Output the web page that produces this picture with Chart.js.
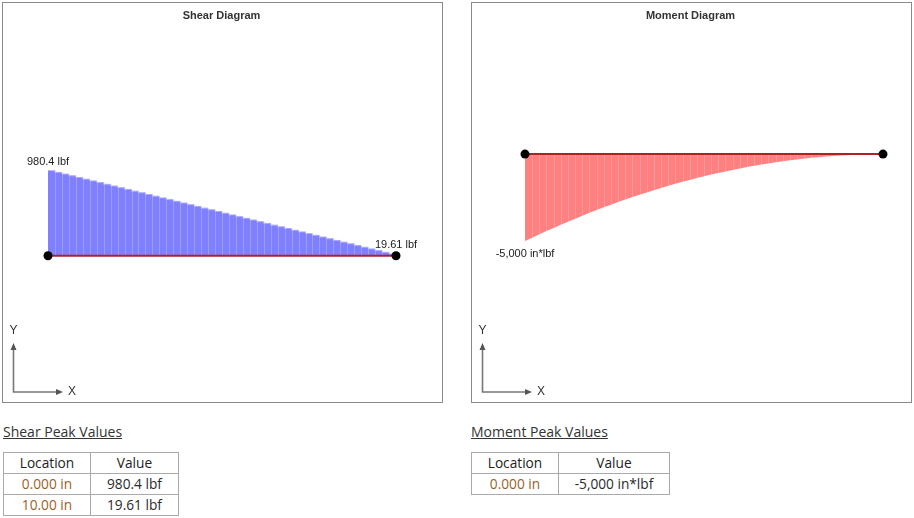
<!DOCTYPE html>
<html>
<head>
<meta charset="utf-8">
<script src="https://cdn.jsdelivr.net/npm/chart.js@4/dist/chart.umd.min.js"></script>
<style>
  body { margin: 0; width: 914px; height: 518px; background: #fff; position: relative; overflow: hidden; }
  .panel { position: absolute; top: 2px; width: 439px; height: 399px; border: 1px solid #8a8a8a; }
  .panel canvas { display: block; }
  .peak-title { position: absolute; top: 422px; font: 14px 'Open Sans', sans-serif; color: #333; text-decoration: underline; }
  table.peaks { position: absolute; top: 452px; border-collapse: collapse; font: 13.7px 'Open Sans', sans-serif; }
  table.peaks td, table.peaks th { border: 1px solid #aaa; height: 20px; padding: 0; line-height: 20px; text-align: center; font-weight: normal; }
  table.peaks th { color: #222; }
  table.peaks td.loc { color: #9a5f28; }
  table.peaks td.val { color: #2a2a2a; }
</style>
</head>
<body>
<div class="panel" style="left:2px"><canvas id="shear" width="439" height="399"></canvas></div>
<div class="panel" style="left:471px"><canvas id="moment" width="439" height="399"></canvas></div>

<div class="peak-title" style="left:3px">Shear Peak Values</div>
<table class="peaks" id="shearTable" style="left:3px"><colgroup><col style="width:87px"><col style="width:88px"></colgroup></table>
<div class="peak-title" style="left:471px">Moment Peak Values</div>
<table class="peaks" id="momentTable" style="left:471px"><colgroup><col style="width:87px"><col style="width:111px"></colgroup></table>

<script>
// stations along the beam (in)
const stations = [0, 0.2, 0.4, 0.6, 0.8, 1, 1.2, 1.4, 1.6, 1.8, 2, 2.2, 2.4, 2.6, 2.8, 3, 3.2, 3.4, 3.6, 3.8,
  4, 4.2, 4.4, 4.6, 4.8, 5, 5.2, 5.4, 5.6, 5.8, 6, 6.2, 6.4, 6.6, 6.8, 7, 7.2, 7.4, 7.6, 7.8,
  8, 8.2, 8.4, 8.6, 8.8, 9, 9.2, 9.4, 9.6, 9.8, 10];

// shear per segment (lbf), segment i runs from stations[i] to stations[i+1]
const shearValues = [980.4, 960.8, 941.2, 921.6, 902.0, 882.4, 862.8, 843.1, 823.5, 803.9,
  784.3, 764.7, 745.1, 725.5, 705.9, 686.3, 666.7, 647.1, 627.5, 607.9,
  588.3, 568.7, 549.0, 529.4, 509.8, 490.2, 470.6, 451.0, 431.4, 411.8,
  392.2, 372.6, 353.0, 333.4, 313.8, 294.2, 274.6, 254.9, 235.3, 215.7,
  196.1, 176.5, 156.9, 137.3, 117.7, 98.1, 78.4, 58.8, 39.2, 19.61];

// moment at each station (in*lbf)
const momentValues = [-5000, -4804.5, -4612.3, -4424.0, -4239.7, -4059.3, -3882.8, -3710.2, -3541.6, -3376.8,
  -3216.0, -3059.2, -2906.2, -2757.2, -2612.1, -2470.9, -2333.6, -2200.2, -2070.8, -1945.3,
  -1823.7, -1706.1, -1592.3, -1482.5, -1376.6, -1274.7, -1176.6, -1082.5, -992.3, -906.0,
  -823.6, -745.2, -670.7, -600.1, -533.4, -470.6, -411.8, -356.9, -305.9, -258.9,
  -215.7, -176.5, -141.2, -109.8, -82.4, -58.8, -39.2, -23.5, -11.8, -3.9, 0];

// peak values (labels + tables)
const shearPeakLoc = [0, 10];
const shearPeakVal = [980.4, 19.61];
const shearPeakText = ['980.4 lbf', '19.61 lbf'];
const shearPeakLocText = ['0.000 in', '10.00 in'];

const momentPeakLoc = [0];
const momentPeakVal = [-5000];
const momentPeakText = ['-5,000 in*lbf'];
const momentPeakLocText = ['0.000 in'];

const beamEnds = [{ x: 0, y: 0 }, { x: 10, y: 0 }];

const FONT = "'Liberation Sans', Arial, sans-serif";

// shear steps: each segment value held to the next station, last one closed at the beam end
const shearPoints = stations.map((s, i) => ({ x: s, y: shearValues[Math.min(i, shearValues.length - 1)] }));
const momentPoints = stations.map((s, i) => ({ x: s, y: momentValues[i] }));

const overlay = {
  id: 'overlay',
  afterDatasetDraw(chart, args, opts) {
    // light seams between the segments of the fill
    if (args.index !== 0) return;
    const ctx = chart.ctx, xs = chart.scales.x, ys = chart.scales.y;
    const pts = chart.data.datasets[0].data;
    ctx.save();
    ctx.strokeStyle = opts.seamColor;
    ctx.lineWidth = 1;
    pts.forEach((p, i) => {
      if (i === 0 || i === pts.length - 1) return;
      const px = Math.round(xs.getPixelForValue(p.x)) + 0.5;
      const top = opts.stepped ? pts[i - 1].y : p.y;
      ctx.beginPath();
      ctx.moveTo(px, ys.getPixelForValue(0));
      ctx.lineTo(px, ys.getPixelForValue(top));
      ctx.stroke();
    });
    ctx.restore();
  },
  afterDraw(chart, args, opts) {
    const ctx = chart.ctx;
    const xs = chart.scales.x, ys = chart.scales.y;
    ctx.save();
    // title
    ctx.fillStyle = '#333';
    ctx.font = 'bold 11px ' + FONT;
    ctx.textAlign = 'center';
    ctx.textBaseline = 'middle';
    ctx.fillText(opts.title, chart.width / 2 - 1, 12.5);
    // peak labels
    ctx.font = '11px ' + FONT;
    ctx.fillStyle = '#222';
    ctx.textBaseline = 'alphabetic';
    opts.locs.forEach((l, i) => {
      const v = opts.vals[i];
      const px = xs.getPixelForValue(l);
      const py = ys.getPixelForValue(v);
      ctx.fillText(opts.texts[i], px, v >= 0 ? py - 6 : py + 16);
    });
    // axis indicator
    const ox = 10.5, oy = 389;
    ctx.strokeStyle = '#777';
    ctx.fillStyle = '#555';
    ctx.lineWidth = 1.6;
    ctx.beginPath();
    ctx.moveTo(ox, 345);
    ctx.lineTo(ox, oy);
    ctx.lineTo(55, oy);
    ctx.stroke();
    ctx.beginPath();
    ctx.moveTo(ox, 340); ctx.lineTo(ox - 3, 347); ctx.lineTo(ox + 3, 347); ctx.closePath(); ctx.fill();
    ctx.beginPath();
    ctx.moveTo(60, oy); ctx.lineTo(53, oy - 3); ctx.lineTo(53, oy + 3); ctx.closePath(); ctx.fill();
    ctx.fillStyle = '#333';
    ctx.font = '12px ' + FONT;
    ctx.textBaseline = 'middle';
    ctx.textAlign = 'center';
    ctx.fillText('Y', ox, 328);
    ctx.textAlign = 'left';
    ctx.fillText('X', 65, oy);
    ctx.restore();
  }
};

const baseline = {
  data: beamEnds,
  borderColor: '#ad2323',
  borderWidth: 2,
  pointRadius: 4.5,
  pointBackgroundColor: '#000',
  pointBorderWidth: 0,
  fill: false,
  clip: false,
  order: 0
};

new Chart(document.getElementById('shear'), {
  type: 'line',
  data: {
    datasets: [
      {
        data: shearPoints,
        stepped: 'before',
        backgroundColor: '#8080ff',
        borderColor: '#a8a8ff',
        borderWidth: 1,
        pointRadius: 0,
        fill: 'origin',
        order: 1
      },
      baseline
    ]
  },
  options: {
    responsive: false,
    animation: false,
    layout: { padding: { left: 45, right: 46, top: 0, bottom: 0 } },
    scales: {
      x: { type: 'linear', display: false, min: 0, max: 10 },
      y: { display: false, min: -1634, max: 2862 }
    },
    plugins: {
      legend: { display: false },
      tooltip: { enabled: false },
      overlay: { title: 'Shear Diagram', stepped: true, seamColor: 'rgba(255,255,255,0.22)', locs: shearPeakLoc, vals: shearPeakVal, texts: shearPeakText }
    }
  },
  plugins: [overlay]
});

new Chart(document.getElementById('moment'), {
  type: 'line',
  data: {
    datasets: [
      {
        data: momentPoints,
        backgroundColor: '#ff8080',
        borderWidth: 0,
        pointRadius: 0,
        fill: 'origin',
        tension: 0,
        order: 1
      },
      baseline
    ]
  },
  options: {
    responsive: false,
    animation: false,
    layout: { padding: { left: 53, right: 28, top: 0, bottom: 0 } },
    scales: {
      x: { type: 'linear', display: false, min: 0, max: 10 },
      y: { display: false, min: -13989, max: 8427 }
    },
    plugins: {
      legend: { display: false },
      tooltip: { enabled: false },
      overlay: { title: 'Moment Diagram', stepped: false, seamColor: 'rgba(255,255,255,0.2)', locs: momentPeakLoc, vals: momentPeakVal, texts: momentPeakText }
    }
  },
  plugins: [overlay]
});

// peak value tables
const fillTable = (id, locs, vals) => {
  const t = document.getElementById(id);
  let html = '<tr><th>Location</th><th>Value</th></tr>';
  locs.forEach((l, i) => {
    html += '<tr><td class="loc">' + l + '</td><td class="val">' + vals[i] + '</td></tr>';
  });
  t.insertAdjacentHTML('beforeend', html);
};
fillTable('shearTable', shearPeakLocText, shearPeakText);
fillTable('momentTable', momentPeakLocText, momentPeakText);
</script>
</body>
</html>
